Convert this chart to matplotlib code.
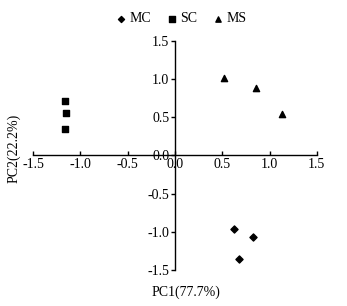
import matplotlib
matplotlib.use("Agg")
import matplotlib.pyplot as plt

plt.rcParams['font.family'] = ['Liberation Serif', 'DejaVu Serif']

## PCA scores
mc_x = [0.62, 0.83, 0.68]
mc_y = [-0.97, -1.07, -1.36]
sc_x = [-1.16, -1.15, -1.16]
sc_y = [0.72, 0.55, 0.35]
ms_x = [0.52, 0.855, 1.13]
ms_y = [1.02, 0.88, 0.54]
ticks = [-1.5, -1.0, -0.5, 0.0, 0.5, 1.0, 1.5]
tick_labels = ["-1.5", "-1.0", "-0.5", "0.0", "0.5", "1.0", "1.5"]

fig = plt.figure(figsize=(3.47, 3.06), dpi=100)
ax = fig.add_axes([0.095, 0.118, 0.818, 0.748])

ax.scatter(mc_x, mc_y, marker="D", s=13, color="black", label="MC", zorder=3)
ax.scatter(sc_x, sc_y, marker="s", s=20, color="black", label="SC", zorder=3)
ax.scatter(ms_x, ms_y, marker="^", s=20, color="black", label="MS", zorder=3)

ax.set_xlim(-1.5, 1.5)
ax.set_ylim(-1.5, 1.5)

# axes cross at the origin
ax.spines['left'].set_position('zero')
ax.spines['bottom'].set_position('zero')
ax.spines['right'].set_visible(False)
ax.spines['top'].set_visible(False)
for s in ['left', 'bottom']:
    ax.spines[s].set_linewidth(1.0)

ax.set_xticks(ticks)
ax.set_xticklabels(tick_labels)
ax.set_yticks(ticks)
ax.set_yticklabels(tick_labels)
ax.tick_params(axis='x', direction='in', length=3, width=1, labelsize=10, pad=2)
ax.tick_params(axis='y', direction='out', length=3, width=1, labelsize=10, pad=1)

fig.text(0.535, 0.045, "PC1(77.7%)", ha="center", va="center", fontsize=10)
fig.text(0.04, 0.515, "PC2(22.2%)", ha="center", va="center", rotation=90, fontsize=10)

fig.legend(loc="upper center", bbox_to_anchor=(0.51, 1.0), ncol=3, frameon=False,
           fontsize=10, handletextpad=-0.4, columnspacing=0.5, markerscale=0.85)

fig.savefig("out.png", dpi=100)
